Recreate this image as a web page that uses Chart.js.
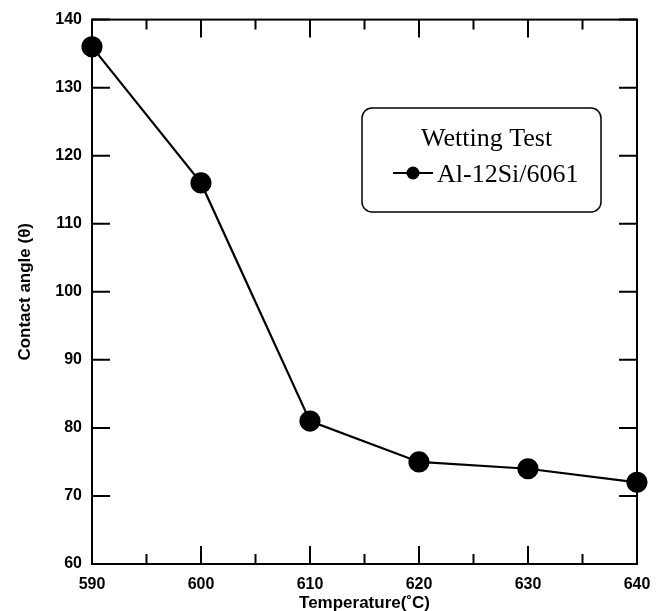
<!DOCTYPE html>
<html>
<head>
<meta charset="utf-8">
<script src="https://cdn.jsdelivr.net/npm/chart.js@4.4.0/dist/chart.umd.min.js"></script>
<style>
  html, body { margin: 0; padding: 0; background: #fff; }
  canvas { display: block; }
</style>
</head>
<body>
<canvas id="myChart" width="664" height="611"></canvas>
<script>
// data
const temperatures = [590, 600, 610, 620, 630, 640];
const contactAngles = [136, 116, 81, 75, 74, 72];
const seriesLabel = 'Al-12Si/6061';
const legendTitle = 'Wetting Test';
const xTitle = 'Temperature(\u02DAC)';
const yTitle = 'Contact angle (\u03B8)';

const points = temperatures.map((t, i) => ({ x: t, y: contactAngles[i] }));

// frame + inward ticks on all four sides
const frameTicks = {
    id: 'frameTicks',
    afterDraw(chart) {
        const ctx = chart.ctx;
        const a = chart.chartArea;
        const xs = chart.scales.x;
        const ys = chart.scales.y;
        ctx.save();
        ctx.strokeStyle = '#000';
        ctx.lineWidth = 2;
        ctx.strokeRect(a.left, a.top, a.right - a.left, a.bottom - a.top);
        ctx.beginPath();
        const xt = xs.ticks.map(t => t.value);
        xt.forEach((v, i) => {
            const px = xs.getPixelForValue(v);
            ctx.moveTo(px, a.bottom); ctx.lineTo(px, a.bottom - 18);
            ctx.moveTo(px, a.top); ctx.lineTo(px, a.top + 18);
            if (i < xt.length - 1) {
                // minor tick half way
                const m = xs.getPixelForValue((v + xt[i + 1]) / 2);
                ctx.moveTo(m, a.bottom); ctx.lineTo(m, a.bottom - 10);
                ctx.moveTo(m, a.top); ctx.lineTo(m, a.top + 10);
            }
        });
        ys.ticks.forEach(t => {
            const py = ys.getPixelForValue(t.value);
            ctx.moveTo(a.left, py); ctx.lineTo(a.left + 18, py);
            ctx.moveTo(a.right, py); ctx.lineTo(a.right - 18, py);
        });
        ctx.stroke();
        ctx.restore();
    }
};

// legend box inside the plot
const boxLegend = {
    id: 'boxLegend',
    afterDraw(chart) {
        const ctx = chart.ctx;
        const x0 = 362, y0 = 108, w = 239, h = 104;
        ctx.save();
        ctx.strokeStyle = '#000';
        ctx.lineWidth = 1.5;
        ctx.beginPath();
        ctx.roundRect(x0, y0, w, h, 10);
        ctx.fillStyle = '#fff';
        ctx.fill();
        ctx.stroke();
        ctx.fillStyle = '#000';
        ctx.font = '26px "Liberation Serif"';
        ctx.textBaseline = 'alphabetic';
        ctx.textAlign = 'left';
        ctx.fillText(legendTitle, 421, 146);
        // sample line with marker
        ctx.lineWidth = 2;
        ctx.beginPath();
        ctx.moveTo(393, 173); ctx.lineTo(433, 173);
        ctx.stroke();
        ctx.beginPath();
        ctx.arc(413, 173, 6.5, 0, Math.PI * 2);
        ctx.fill();
        ctx.fillText(seriesLabel, 437, 182);
        ctx.restore();
    }
};

const data = {
    datasets: [{
        label: seriesLabel,
        data: points,
        borderColor: '#000',
        backgroundColor: '#000',
        borderWidth: 2.2,
        pointRadius: 9.5,
        pointBackgroundColor: '#000',
        pointBorderColor: '#000',
        tension: 0,
        clip: false
    }]
};

const tickFont = { family: '"Liberation Sans", Arial', size: 16, weight: 'bold' };
const titleFont = { family: '"Liberation Sans", Arial', size: 17, weight: 'bold' };
const xTitleFont = { family: '"Liberation Sans", Arial', size: 17, weight: 'bold', lineHeight: 0.9 };

const config = {
    type: 'line',
    data,
    options: {
        responsive: false,
        animation: false,
        devicePixelRatio: 1,
        layout: { padding: { top: 17, right: 27, left: 0, bottom: 0 } },
        plugins: {
            legend: { display: false },
            tooltip: { enabled: false }
        },
        scales: {
            x: {
                type: 'linear',
                min: 590,
                max: 640,
                grid: { display: false, drawTicks: false },
                border: { display: false },
                ticks: { stepSize: 10, color: '#000', font: tickFont, padding: 11 },
                title: { display: true, text: xTitle, color: '#000', font: xTitleFont, padding: 0 },
                afterFit(scale) { scale.height = 47; }
            },
            y: {
                min: 60,
                max: 140,
                grid: { display: false, drawTicks: false },
                border: { display: false },
                ticks: { stepSize: 10, color: '#000', font: tickFont, padding: 10 },
                title: { display: true, text: yTitle, color: '#000', font: titleFont, padding: 15 },
                afterFit(scale) { scale.width = 92; }
            }
        }
    },
    plugins: [frameTicks, boxLegend]
};

const myChart = new Chart(document.getElementById('myChart'), config);
</script>
</body>
</html>
